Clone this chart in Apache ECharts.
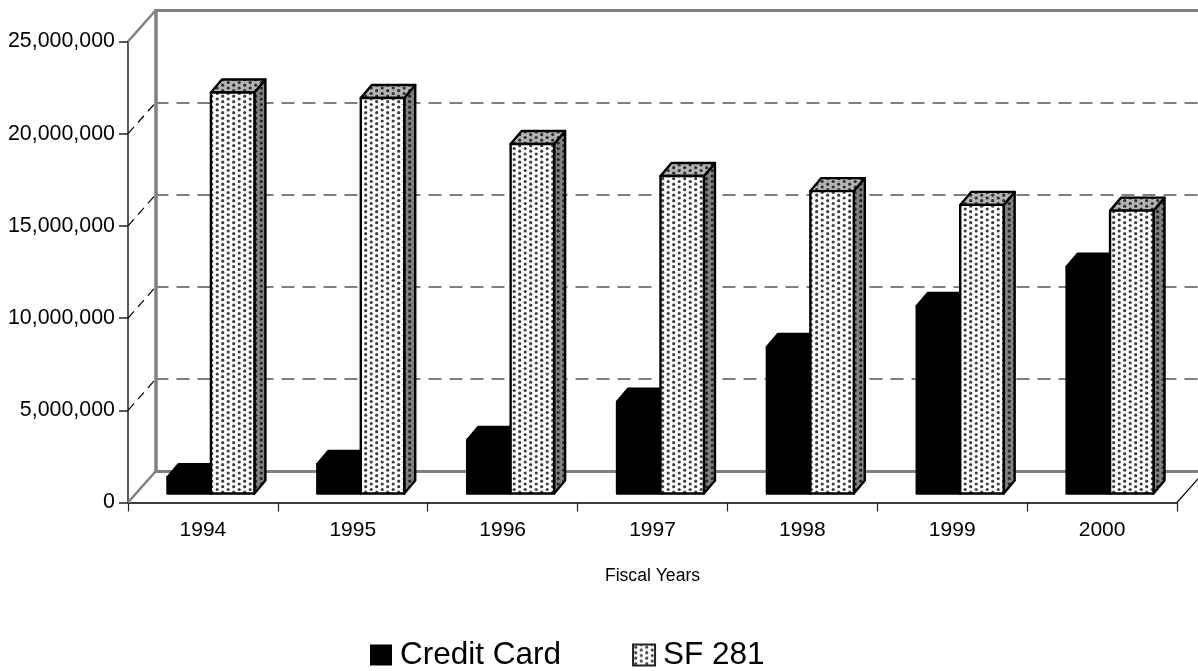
<!DOCTYPE html>
<html>
  <head>
    <meta charset="utf-8" />
    <title>Fiscal Years</title>
    <style>
      html, body { margin: 0; padding: 0; background: #fff; }
    </style>
  </head>
  <body>
    <script src="https://cdn.jsdelivr.net/npm/echarts@6/dist/echarts.min.js"></script>
    <div id="container" style="width: 1198px; height: 671px;"></div>

    <script type="text/javascript">
    // values
    var years = ['1994', '1995', '1996', '1997', '1998', '1999', '2000'];
    var creditCard = [880000, 1600000, 2900000, 4980000, 7950000, 10170000, 12300000];
    var sf281 = [21750000, 21450000, 18950000, 17220000, 16400000, 15650000, 15340000];
    var yTicks = [0, 5000000, 10000000, 15000000, 20000000, 25000000];

    var FONT = '"Liberation Sans", Arial, sans-serif';

    // fake 3D: back wall offset, bar offset from the front plane, bar depth
    var WALL_DX = 27.5, WALL_DY = -31;
    var BAR_DX = 8, BAR_DY = -9;
    var DEPTH_DX = 11, DEPTH_DY = -13;
    var BAR_RATIO = 0.29;

    // dotted fill used on the SF 281 bars
    function dots(bg, dot) {
      var c = document.createElement('canvas');
      c.width = 11;
      c.height = 11;
      var ctx = c.getContext('2d');
      ctx.fillStyle = bg;
      ctx.fillRect(0, 0, 11, 11);
      ctx.fillStyle = dot;
      [[2.7, 2.7], [2.7, 8.2], [8.2, 0], [8.2, 5.5], [8.2, 11]].forEach(function (p) {
        ctx.beginPath();
        ctx.arc(p[0], p[1], 1.6, 0, Math.PI * 2);
        ctx.fill();
      });
      return { image: c, repeat: 'repeat' };
    }
    var frontFill = dots('#ffffff', '#404040');
    var topFill = dots('#b4b4b4', '#303030');
    var sideFill = dots('#808080', '#262626');

    function poly(points, fill, stroke) {
      return {
        type: 'polygon',
        shape: { points: points },
        style: { fill: fill, stroke: stroke, lineWidth: 2.4, lineJoin: 'round' }
      };
    }

    // side: -1 is the left bar of a pair, 0 the right one
    function barRenderer(side, front, top, right) {
      return function (params, api) {
        var i = api.value(0);
        var p0 = api.coord([i, 0]);
        var p1 = api.coord([i, api.value(1)]);
        var w = api.size([1, 0])[0] * BAR_RATIO;
        var x0 = p0[0] + BAR_DX + side * w;
        var x1 = x0 + w;
        var yb = p0[1] + BAR_DY;
        var yt = p1[1] + BAR_DY;
        return {
          type: 'group',
          children: [
            poly([[x1, yb], [x1 + DEPTH_DX, yb + DEPTH_DY], [x1 + DEPTH_DX, yt + DEPTH_DY], [x1, yt]], right, '#000'),
            poly([[x0, yt], [x1, yt], [x1 + DEPTH_DX, yt + DEPTH_DY], [x0 + DEPTH_DX, yt + DEPTH_DY]], top, '#000'),
            poly([[x0, yb], [x1, yb], [x1, yt], [x0, yt]], front, '#000')
          ]
        };
      };
    }

    // diagonals that join the front axis to the back wall
    function wallRenderer(params, api) {
      var v = api.value(0);
      var half = api.size([1, 0])[0] / 2;
      var p = api.coord([0, v]);
      var x = p[0] - half;
      var solid = v === yTicks[0] || v === yTicks[yTicks.length - 1];
      var children = [{
        type: 'line',
        shape: { x1: x, y1: p[1], x2: x + WALL_DX, y2: p[1] + WALL_DY },
        style: solid
          ? { stroke: '#808080', lineWidth: 2.5 }
          : { stroke: '#000000', lineWidth: 1.2, lineDash: [9, 6] }
      }];
      if (v === yTicks[0]) {
        var xr = api.coord([years.length - 1, 0])[0] + half;
        children.push({
          type: 'line',
          shape: { x1: xr, y1: p[1], x2: xr + WALL_DX, y2: p[1] + WALL_DY },
          style: { stroke: '#000000', lineWidth: 1.2 }
        });
      }
      return { type: 'group', children: children };
    }

    var myChart = echarts.init(document.getElementById('container'));
    var option = {
      backgroundColor: '#ffffff',
      animation: false,
      textStyle: { fontFamily: FONT },
      legend: {
        left: 365,
        top: 634,
        itemWidth: 22,
        itemHeight: 21,
        itemGap: 71,
        textStyle: { fontFamily: FONT, fontSize: 31.5, color: '#000', padding: [0, 0, 0, 3] },
        data: [
          { name: 'Credit Card', icon: 'rect', itemStyle: { color: '#000000', borderWidth: 0 } },
          { name: 'SF 281', icon: 'rect', itemStyle: { color: frontFill, borderColor: '#222', borderWidth: 2 } }
        ]
      },
      grid: [
        { left: 128, right: 21, top: 41.5, height: 461 },
        { left: 155.5, right: 0, top: 10.5, height: 460.5 }
      ],
      xAxis: [
        {
          type: 'category',
          gridIndex: 0,
          data: years,
          name: 'Fiscal Years',
          nameLocation: 'middle',
          nameGap: 65,
          nameTextStyle: { fontFamily: FONT, fontSize: 17.6, color: '#000' },
          axisLine: { lineStyle: { color: '#000', width: 1.5 } },
          axisTick: { show: true, length: 9, lineStyle: { color: '#222', width: 1.2 } },
          axisLabel: { fontFamily: FONT, fontSize: 21, color: '#000', margin: 17 }
        },
        {
          type: 'category',
          gridIndex: 1,
          data: years,
          axisLine: { lineStyle: { color: '#808080', width: 3 } },
          axisTick: { show: false },
          axisLabel: { show: false }
        },
        {
          type: 'category',
          gridIndex: 1,
          position: 'top',
          data: years,
          axisLine: { lineStyle: { color: '#808080', width: 3 } },
          axisTick: { show: false },
          axisLabel: { show: false }
        }
      ],
      yAxis: [
        {
          type: 'value',
          gridIndex: 0,
          min: 0,
          max: 25000000,
          interval: 5000000,
          splitLine: { show: false },
          axisLine: { show: true, onZero: false, lineStyle: { color: '#222', width: 1.5 } },
          axisTick: { show: true, length: 9, lineStyle: { color: '#222', width: 1.5 } },
          axisLabel: {
            fontFamily: FONT,
            fontSize: 21.4,
            color: '#000',
            margin: 13,
            formatter: function (v) { return v.toLocaleString('en-US'); }
          }
        },
        {
          type: 'value',
          gridIndex: 1,
          min: 0,
          max: 25000000,
          interval: 5000000,
          axisLine: { show: true, onZero: false, lineStyle: { color: '#808080', width: 3.5 } },
          axisTick: { show: false },
          axisLabel: { show: false },
          splitLine: {
            show: true,
            showMinLine: false,
            showMaxLine: false,
            lineStyle: { color: '#555555', width: 1.5, type: [13, 8] }
          }
        }
      ],
      series: [
        {
          name: 'wall',
          type: 'custom',
          xAxisIndex: 0,
          yAxisIndex: 0,
          z: 1,
          silent: true,
          renderItem: wallRenderer,
          encode: { y: 0 },
          data: yTicks.map(function (v) { return [v]; })
        },
        {
          name: 'Credit Card',
          type: 'custom',
          xAxisIndex: 0,
          yAxisIndex: 0,
          z: 3,
          itemStyle: { color: '#000000' },
          renderItem: barRenderer(-1, '#000', '#000', '#000'),
          encode: { x: 0, y: 1 },
          data: creditCard.map(function (v, i) { return [i, v]; })
        },
        {
          name: 'SF 281',
          type: 'custom',
          xAxisIndex: 0,
          yAxisIndex: 0,
          z: 4,
          itemStyle: { color: '#888888' },
          renderItem: barRenderer(0, frontFill, topFill, sideFill),
          encode: { x: 0, y: 1 },
          data: sf281.map(function (v, i) { return [i, v]; })
        }
      ]
    };
    myChart.setOption(option);

    window.addEventListener('resize', myChart.resize);
    </script>
  </body>
</html>
